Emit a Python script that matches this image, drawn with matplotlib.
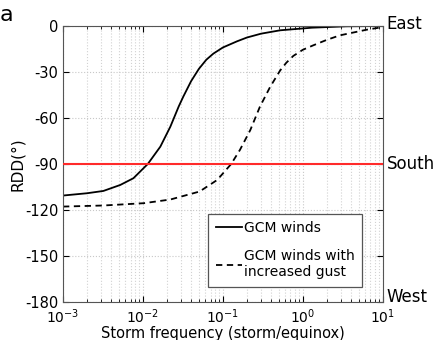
import numpy as np
import matplotlib
matplotlib.use("Agg")
import matplotlib.pyplot as plt
from matplotlib.ticker import LogLocator, NullFormatter

# storm frequency (storm/equinox) vs RDD (deg)
freq_gcm = [1e-3, 2e-3, 3.2e-3, 5.2e-3, 7.6e-3, 1.15e-2, 1.65e-2, 2.2e-2,
            2.8e-2, 3.2e-2, 4e-2, 5e-2, 6.2e-2, 7.6e-2, 0.1, 0.15, 0.2,
            0.3, 0.52, 1.3, 3.5, 10]
rdd_gcm = [-110.6, -109.1, -107.6, -103.7, -99.3, -90, -78.7, -65.7,
           -52.5, -46, -36, -28, -22, -18, -14, -10, -7.5,
           -5, -2.8, -1.1, -0.2, 0]

freq_gust = [1e-3, 3.2e-3, 1.02e-2, 2.2e-2, 5.1e-2, 8.5e-2, 0.127, 0.163,
             0.22, 0.29, 0.39, 0.52, 0.62, 0.76, 1.0, 1.35, 2.0, 2.9, 6.3, 10]
rdd_gust = [-117.8, -117.1, -115.6, -113.2, -108, -100.4, -90, -80.9,
            -67.9, -52.7, -39.7, -29, -24, -19.5, -15.5, -12.6, -9, -6.1,
            -2.4, -0.7]

yticks = [0, -30, -60, -90, -120, -150, -180]
directions = {"East": 1.5, "South": -90, "West": -177}

fig = plt.figure(figsize=(4.36, 3.40), dpi=100)
ax = fig.add_axes([0.1445, 0.112, 0.7335, 0.8115])

ax.plot(freq_gcm, rdd_gcm, color="black", lw=1.3, label="GCM winds")
ax.plot(freq_gust, rdd_gust, color="black", lw=1.3, ls=(0, (3.5, 2.5)),
        label="GCM winds with\nincreased gust")
ax.axhline(-90, color="#ff2a2a", lw=1.5, zorder=3)

ax.set_xscale("log")
ax.set_xlim(1e-3, 10)
ax.set_ylim(-180, 0)
ax.set_yticks(yticks)
ax.set_yticklabels([str(v) for v in yticks])
ax.xaxis.set_minor_locator(LogLocator(base=10, subs=np.arange(2, 10)))
ax.xaxis.set_minor_formatter(NullFormatter())

ax.grid(which="major", color="#c8c8c8", ls=":", lw=0.8)
ax.grid(which="minor", axis="x", color="#d2d2d2", ls=":", lw=0.8)

ax.tick_params(which="both", direction="in", top=True, right=True,
               labelsize=10.5)
ax.tick_params(which="major", length=4)
ax.tick_params(which="minor", length=2)
ax.tick_params(axis="x", pad=4, labelsize=10)
for s in ax.spines.values():
    s.set_color("#555555")

ax.set_xlabel("Storm frequency (storm/equinox)", fontsize=10.5, labelpad=0)
ax.set_ylabel("RDD(°)", fontsize=11, labelpad=0)

trans = ax.get_yaxis_transform()
for name, yv in directions.items():
    ax.text(1.012, yv, name, transform=trans, fontsize=12,
            ha="left", va="center")

fig.text(0.0, 0.955, "a", fontsize=16, ha="left", va="center")

leg = ax.legend(loc="lower left", bbox_to_anchor=(0.453, 0.054),
                borderaxespad=0, fontsize=10, handlelength=1.9,
                handletextpad=0.15, fancybox=False, framealpha=1,
                edgecolor="#555555", labelspacing=1.0, borderpad=0.55)
leg.get_frame().set_linewidth(0.9)

fig.savefig("out.png", dpi=100)
